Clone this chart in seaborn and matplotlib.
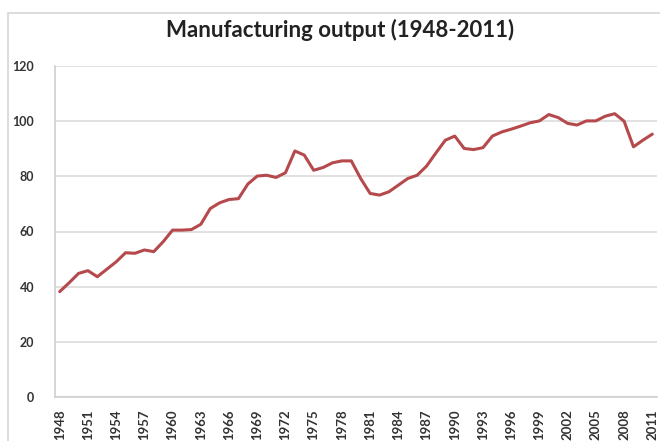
import matplotlib
matplotlib.use("Agg")
import matplotlib.pyplot as plt
import seaborn as sns
import pandas as pd
from matplotlib.patches import Rectangle

years = list(range(1948, 2012))
output = [38.2, 41.4, 44.8, 45.8, 43.6, 46.3, 49.0, 52.3, 52.1, 53.3,
          52.7, 56.3, 60.5, 60.5, 60.7, 62.6, 68.3, 70.4, 71.6, 71.9,
          77.2, 80.1, 80.4, 79.6, 81.3, 89.2, 87.7, 82.2, 83.2, 84.9,
          85.6, 85.6, 79.2, 73.8, 73.2, 74.4, 76.8, 79.2, 80.4, 83.7,
          88.5, 93.1, 94.6, 90.1, 89.7, 90.4, 94.6, 96.1, 97.1, 98.2,
          99.4, 100.1, 102.4, 101.3, 99.2, 98.6, 100.1, 100.1, 101.8, 102.7,
          100.0, 90.7, 93.1, 95.3]
title = "Manufacturing output (1948-2011)"
y_ticks = [0, 20, 40, 60, 80, 100, 120]

df = pd.DataFrame({"year": years, "output": output})

sns.set_theme(style="white")
plt.rcParams['font.family'] = ['Lato', 'DejaVu Sans']

fig = plt.figure(figsize=(6.6, 4.41), dpi=100)
ax = fig.add_axes([55/660, 1 - 397/441, 602/660, 331/441])

sns.lineplot(data=df, x="year", y="output", ax=ax, color="#b5494b", linewidth=2.2)

ax.set_xlim(years[0] - 0.5, years[-1] + 0.5)
ax.set_ylim(0, 120)
ax.set_yticks(y_ticks)
ax.set_yticklabels([str(v) for v in y_ticks], fontsize=9, fontweight="bold", color="#333333")
xt = years[::3]
ax.set_xticks(xt)
ax.set_xticklabels([str(y) for y in xt], rotation=90, fontsize=9.5, fontweight="bold", color="#333333")
ax.tick_params(axis="y", length=0, pad=15)
ax.tick_params(axis="x", length=0, pad=9)
ax.grid(axis="y", color="#dcdcdc", linewidth=1.2)
ax.set_axisbelow(True)
for s in ["top", "right"]:
    ax.spines[s].set_visible(False)
ax.spines["left"].set_color("#d0d0d0")
ax.spines["bottom"].set_color("#d0d0d0")
ax.spines["left"].set_linewidth(1.2)
ax.spines["bottom"].set_linewidth(1.2)
ax.set_xlabel("")
ax.set_ylabel("")

fig.text(340/660, 1 - 30/441, title, ha="center", va="center", fontsize=16, fontweight="bold", color="#222222")

fig.patches.append(Rectangle((8/660, -0.1), 1.2, 1 - 13/441 + 0.1, transform=fig.transFigure,
                             fill=False, edgecolor="#d6d6d6", linewidth=1.2, clip_on=False))

fig.savefig("out.png", dpi=100)
